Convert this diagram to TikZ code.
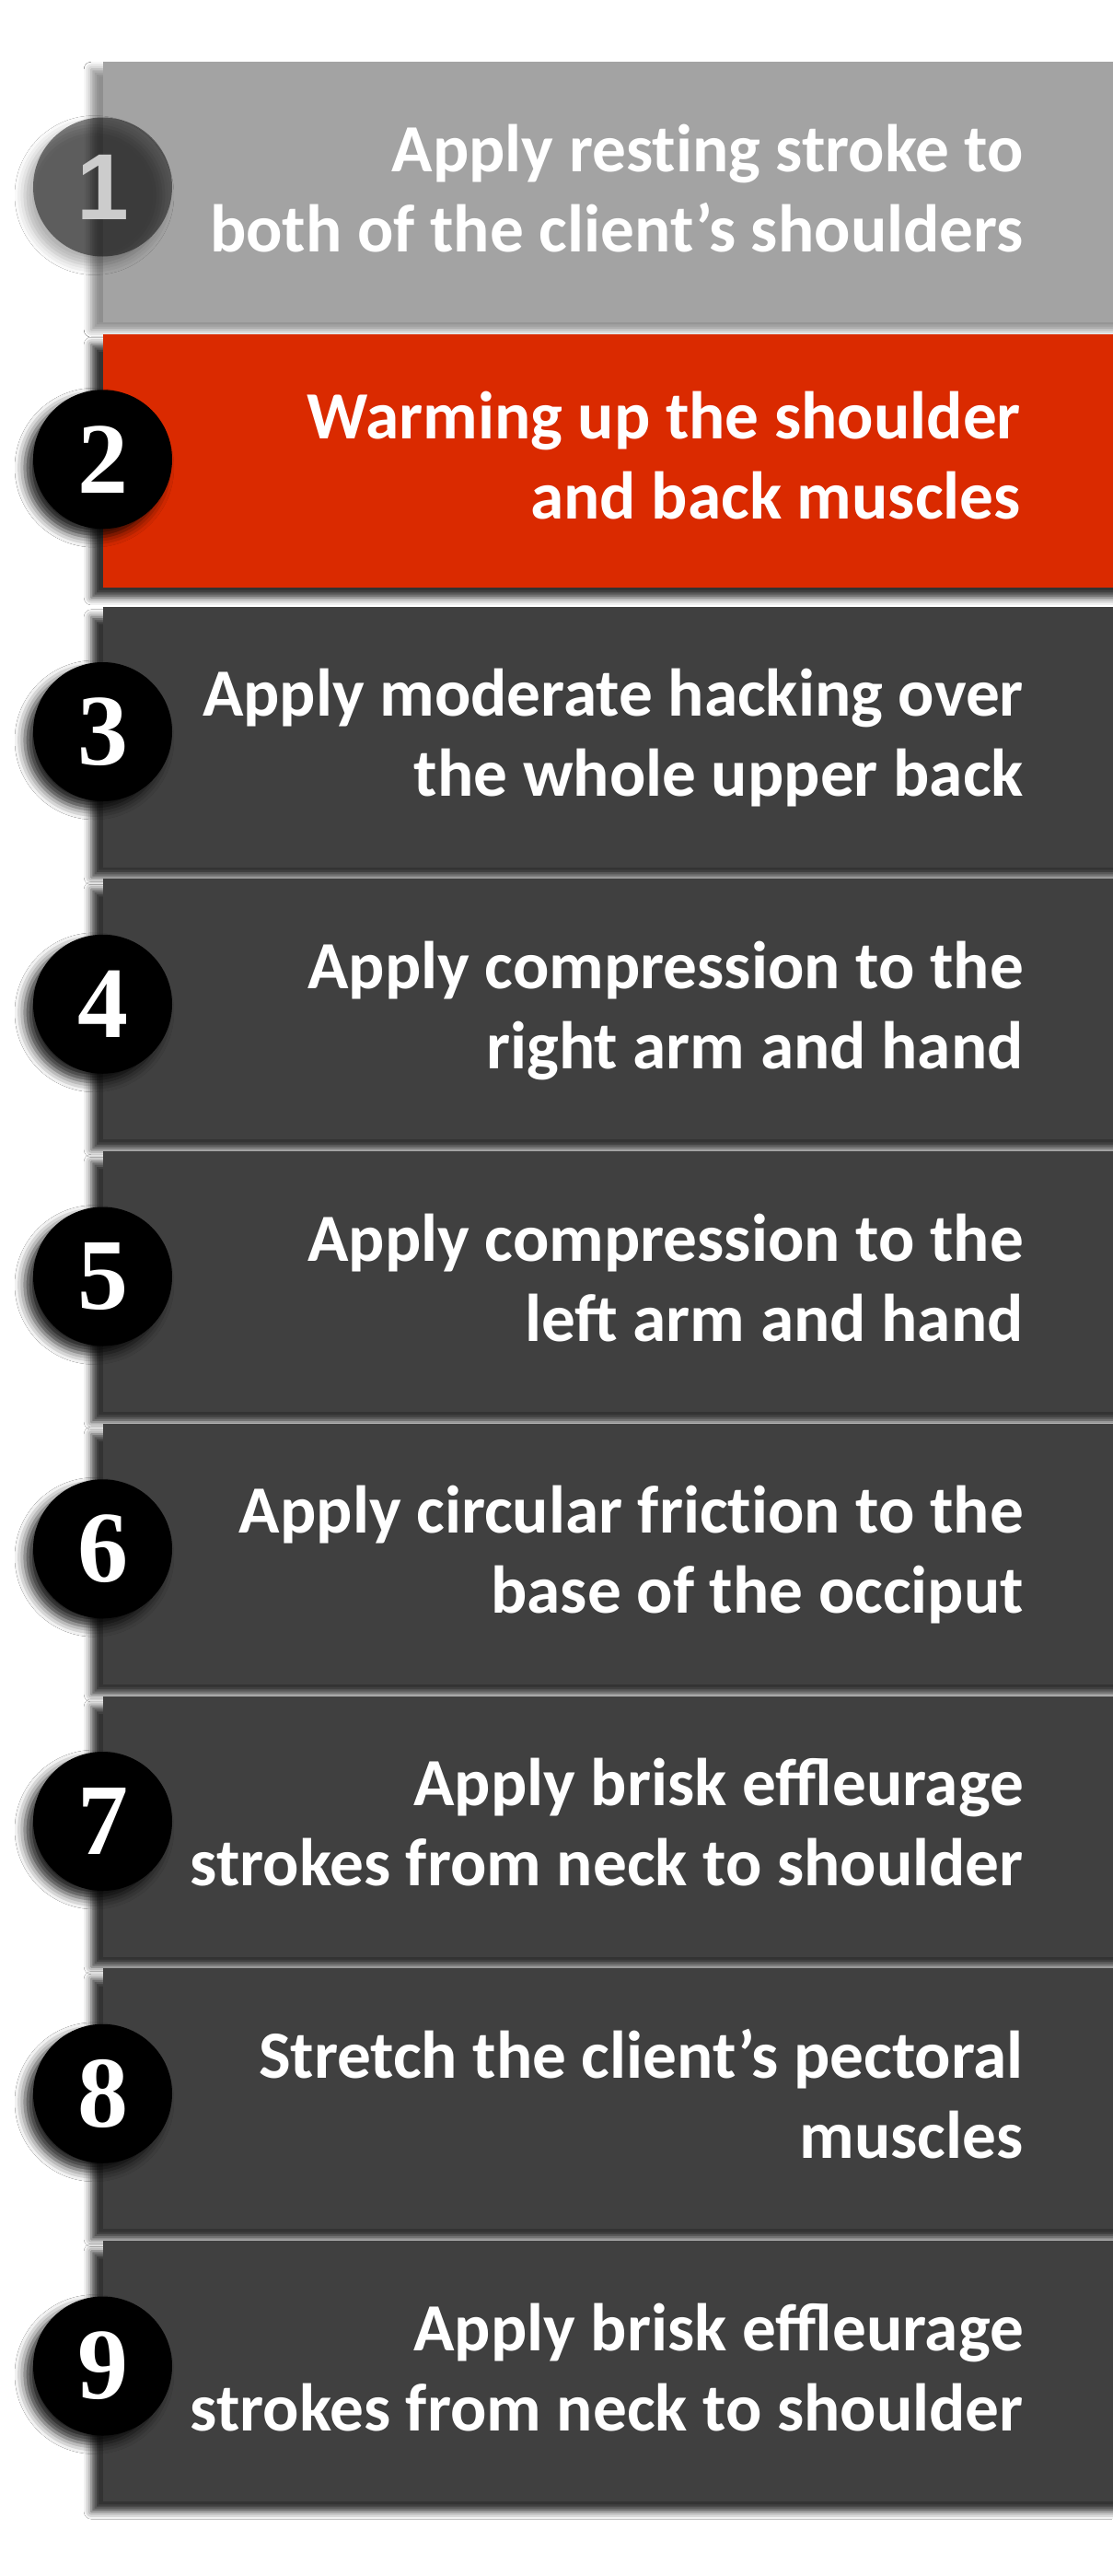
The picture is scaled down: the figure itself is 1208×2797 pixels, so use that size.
\documentclass[tikz,border=0pt]{standalone}
\usepackage{fontspec}
\setmainfont{Carlito}
\newfontfamily\numserif{Liberation Serif}
\newfontfamily\numsans{Liberation Sans}
\usetikzlibrary{shadows.blur}
\definecolor{boxdark}{HTML}{404040}
\definecolor{boxred}{HTML}{DA2A00}
\definecolor{boxfaded}{HTML}{A3A3A3}
\definecolor{onegray}{HTML}{CCCCCC}
\newcommand\twolines[2]{\vtop{\halign{\hfil##\cr#1\cr#2\cr}}}
\begin{document}
\begin{tikzpicture}[x=1pt,y=-1pt,
  stepbox/.style={rectangle, draw=none, inner sep=0pt, anchor=north west,
    minimum width=1120pt, minimum height=283pt, fill=boxdark,
    blur shadow={shadow xshift=-13pt, shadow yshift=-11pt, shadow blur radius=8pt, shadow opacity=80}},
  fadedbox/.style={stepbox, fill=boxfaded,
    blur shadow={shadow xshift=-13pt, shadow yshift=-8pt, shadow blur radius=8pt, shadow opacity=25}},
  redbox/.style={stepbox, fill=boxred, minimum height=275pt},
  numdisc/.style={circle, fill=black, draw=none, inner sep=0pt, minimum size=151pt,
    text=white, font=\fontsize{110}{110}\numserif\bfseries,
    blur shadow={shadow xshift=-9pt, shadow yshift=-9pt, shadow blur radius=11pt, shadow opacity=85}},
  fadeddisc/.style={numdisc, fill opacity=0.47, text opacity=1, text=onegray,
    font=\fontsize{102}{102}\numsans\bfseries,
    blur shadow={shadow xshift=-9pt, shadow yshift=-9pt, shadow blur radius=11pt, shadow opacity=35}},
  steptext/.style={anchor=base east, inner sep=0pt, text=white,
    font=\fontsize{73.3}{87}\selectfont\bfseries}
]
\useasboundingbox (0,0) rectangle (1208,2797);
\fill[white] (0,0) rectangle (1208,2797);
% boxes
\node[fadedbox] (b1) at (112,67) {};
\node[redbox] (b2) at (112,362.75) {};
\foreach \i in {3,...,9}{
  \pgfmathsetmacro\T{67+295.75*(\i-1)}
  \node[stepbox] (b\i) at (112,\T) {};
}
% number discs
\node[fadeddisc] (c1) at (111.5,203) {1};
\foreach \i in {2,...,9}{
  \pgfmathsetmacro\T{67+295.75*(\i-1)}
  \node[numdisc] (c\i) at (111.5,\T+136) {\i};
}
% texts
\node[steptext] (t1) at (1112,186) {\twolines{Apply rest\kern0pt ing stroke to}{both of the client’s shoulders}};
\node[steptext] (t2) at (1109,476) {\twolines{Warming up the shoulder}{and back muscles}};
\foreach \i/\la/\lb in {3/Apply moderate hacking over/the whole upper back,
  4/Apply compression to the/right arm and hand,
  5/Apply compression to the/left arm and hand,
  6/Apply circular frict\kern0pt ion to the/base of the occiput,
  7/Apply brisk effleurage/strokes from neck to shoulder,
  8/Stretch the client’s pectoral/muscles,
  9/Apply brisk effleurage/strokes from neck to shoulder}{
  \pgfmathsetmacro\T{67+295.75*(\i-1)}
  \node[steptext] (t\i) at (1112,\T+119) {\twolines{\la}{\lb}};
}
\end{tikzpicture}
\end{document}
